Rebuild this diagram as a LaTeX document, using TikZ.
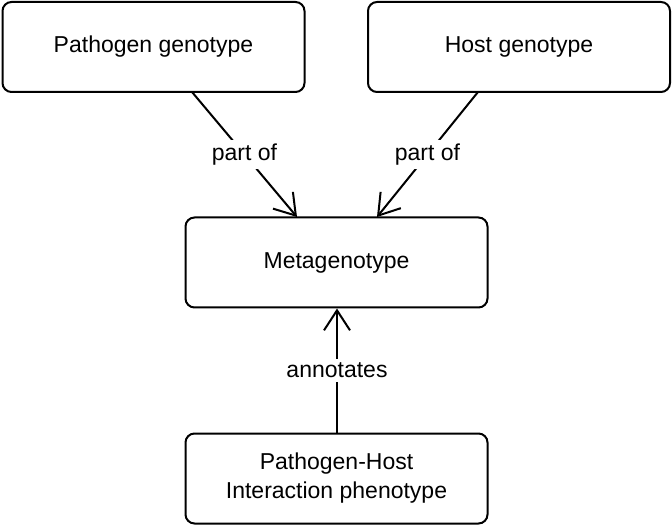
\documentclass[tikz,border=0pt]{standalone}
\usepackage{fontspec}
\setmainfont{Liberation Sans}
\usetikzlibrary{arrows.meta}
\begin{document}
\begin{tikzpicture}[x=1pt,y=-1pt,
  box/.style={draw,line width=2pt,rounded corners=9pt,minimum width=302pt,minimum height=90pt,align=center,inner sep=0pt,font=\fontsize{23}{29}\selectfont},
  lbl/.style={fill=white,font=\fontsize{23}{29}\selectfont,inner sep=4pt},
  conn/.style={line width=2pt,-{Straight Barb[length=20pt,width=26pt,line width=2pt]}}]
\useasboundingbox (0,0) rectangle (672,526);
\node[box] (pg) at (153.5,47) {Pathogen genotype};
\node[box] (hg) at (519,47) {Host genotype};
\node[box] (mg) at (336.5,262.5) {Metagenotype};
\node[box] (ph) at (336.5,478.5) {Pathogen-Host\\Interaction phenotype};
\coordinate (a1) at (192,92);
\coordinate (a2) at (478,92);
\coordinate (m1) at (297,217);
\coordinate (m2) at (377,217);
\draw[conn] (a1) -- node[lbl,pos=0.5] {part of} (m1);
\draw[conn] (a2) -- node[lbl,pos=0.5] {part of} (m2);
\draw[conn] (ph.north -| 337,0) -- node[lbl] {annotates} (mg.south -| 337,0);
\end{tikzpicture}
\end{document}
